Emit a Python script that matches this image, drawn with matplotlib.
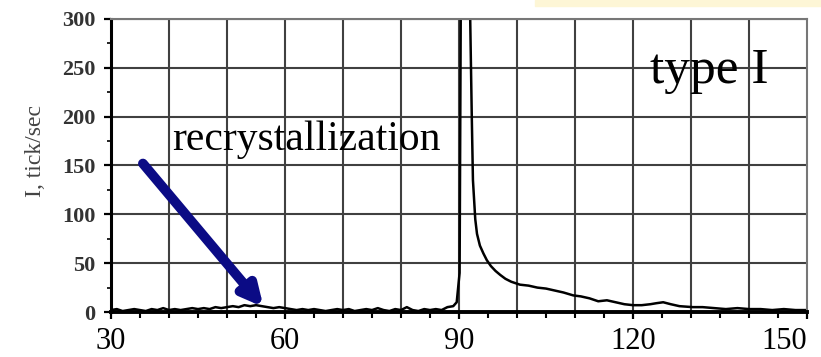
import matplotlib.pyplot as plt
from matplotlib.ticker import MultipleLocator
import matplotlib.patches as patches

# data
temp = [30, 31, 32, 33, 34, 35, 36, 37, 38, 39, 40, 41, 42, 43, 44, 45, 46, 47, 48, 49,
        50, 51, 52, 53, 54, 55, 56, 57, 58, 59, 60, 61, 62, 63, 64, 65, 66, 67, 68, 69,
        70, 71, 72, 73, 74, 75, 76, 77, 78, 79, 80, 81, 82, 83, 84, 85, 86, 87, 88, 89,
        89.6, 90.1, 90.3, 90.6, 91.6, 91.9, 92.2, 92.4, 92.8, 93.1, 93.6, 94.2, 94.8,
        95.5, 96.3, 97.1, 98, 99, 100.5, 102, 103.5, 105, 106.5, 108, 109.7, 111, 112.5,
        114, 115.5, 117, 118.5, 120, 121.5, 123, 124, 125.2, 126.5, 128, 130.3, 132,
        134, 136, 138, 140, 142, 144, 146, 148, 150]
intensity = [2, 3, 1, 2, 3, 2, 1, 3, 2, 4, 2, 3, 2, 3, 4, 3, 4, 3, 5, 4,
             5, 6, 5, 7, 6, 7, 6, 5, 4, 5, 4, 3, 2, 3, 2, 3, 2, 1, 2, 3,
             2, 3, 1, 2, 3, 2, 4, 2, 1, 3, 2, 5, 2, 1, 3, 2, 3, 2, 5, 6,
             10, 40, 310, 330, 330, 310, 200, 135, 95, 80, 68, 60, 53,
             47, 42, 38, 34, 31, 28, 27, 25, 24, 22, 20, 17, 16, 14,
             11, 12, 10, 8, 7, 7, 8, 9, 10, 8, 6, 5, 5,
             4, 3, 4, 3, 3, 2, 3, 2, 2]

x_ticks = [30, 60, 90, 120, 150]
y_ticks = [0, 50, 100, 150, 200, 250, 300]

plt.rcParams['font.family'] = ['Liberation Serif', 'DejaVu Serif']

fig = plt.figure(figsize=(8.21, 3.57), dpi=100)
ax = fig.add_axes([0.1352, 0.126, 0.983 - 0.1352, 0.947 - 0.126])

ax.plot(temp, intensity, color='black', lw=1.8, clip_on=True)

ax.set_xlim(30, 150)
ax.set_ylim(0, 300)
ax.set_xticks(x_ticks)
ax.set_yticks(y_ticks)
ax.xaxis.set_minor_locator(MultipleLocator(5))
ax.yaxis.set_minor_locator(MultipleLocator(25))

# grid every 10 on x, every 50 on y
for gx in range(40, 150, 10):
    ax.axvline(gx, color='#404040', lw=1.5, zorder=0)
for gy in range(50, 301, 50):
    ax.axhline(gy, color='#404040', lw=1.5, zorder=0)

for side in ['top', 'right']:
    ax.spines[side].set_color('#777777')
    ax.spines[side].set_linewidth(1.5)
ax.spines['left'].set_linewidth(2.2)
ax.spines['bottom'].set_linewidth(2.8)

ax.tick_params(axis='x', which='major', direction='out', length=5, width=1.6,
               labelsize=22, pad=6)
ax.tick_params(axis='x', which='minor', direction='out', length=4, width=1.5)
ax.tick_params(axis='y', which='major', direction='out', length=5, width=1.6,
               labelsize=16, pad=6)
ax.tick_params(axis='y', which='minor', direction='out', length=3, width=1.2)
for lbl in ax.get_yticklabels():
    lbl.set_fontweight('bold')
    lbl.set_color('#333333')
ax.get_xticklabels()[-1].set_horizontalalignment('right')

ax.set_ylabel('I, tick/sec', fontsize=17, color='#444444')
ax.yaxis.set_label_coords(-0.093, 0.55)

ax.text(0.088, 0.553, 'recrystallization', transform=ax.transAxes,
        fontsize=30, ha='left', va='baseline')
ax.text(0.774, 0.78, 'type I', transform=ax.transAxes,
        fontsize=37, ha='left', va='baseline')

ax.annotate('', xy=(56.3, 5), xytext=(35.5, 152),
            arrowprops=dict(arrowstyle='-|>,head_length=1.2,head_width=0.6',
                            color='#0b0b85', lw=7, shrinkA=0, shrinkB=0))

# pale yellow strip at top right
fig.patches.append(patches.Rectangle((535 / 821, 1 - 6 / 357), 1, 6 / 357,
                                     transform=fig.transFigure,
                                     color='#fdf6d6', zorder=0))

fig.savefig('out.png', dpi=100)
